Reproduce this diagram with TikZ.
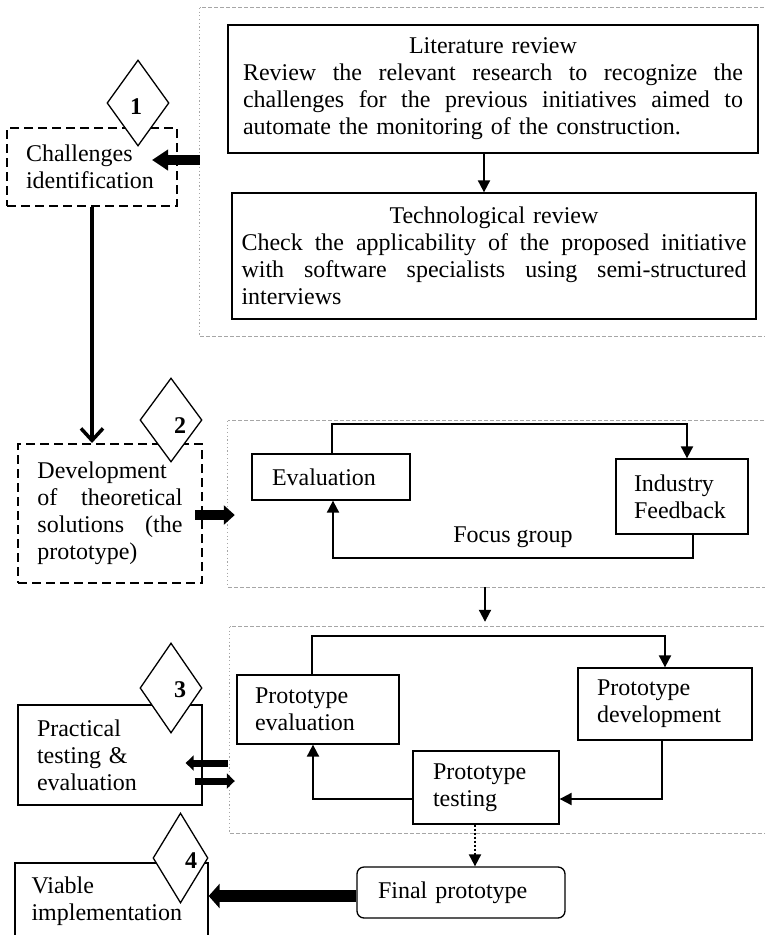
\documentclass[tikz,border=0pt]{standalone}
\usepackage{fontspec}
\setmainfont{Liberation Serif}
\usetikzlibrary{arrows.meta,shapes.geometric}
\newcommand\jline[2]{\leavevmode\hbox to #1{#2}}
\begin{document}
\begin{tikzpicture}[x=1pt,y=-1pt,
  txt/.style={font=\fontsize{24}{27}\selectfont},
  box/.style={txt, draw, line width=1.3pt, align=left, inner ysep=0pt, anchor=center},
  dbox/.style={box, line width=2pt, dash pattern=on 9pt off 5pt},
  cont/.style={inner sep=0pt, draw=none},
  gedge/.style={draw=gray!70, line width=0.8pt, dash pattern=on 4pt off 2pt},
  gdot/.style={draw=gray!70, line width=1.2pt, dash pattern=on 1.2pt off 2.5pt},
  diam/.style={diamond, draw, fill=white, line width=1.3pt, inner sep=0pt},
  num/.style={font=\fontsize{24}{27}\selectfont\bfseries, inner sep=0pt},
  arr/.style={line width=2pt, -{Triangle[length=12pt,width=12pt]}},
]
\useasboundingbox (0,0) rectangle (765,935);
\clip (0,0) rectangle (765,935);

% grey containers
\node[cont, minimum width=600pt, minimum height=328pt] (c1) at (500,172) {};
\node[cont, minimum width=572pt, minimum height=166pt] (c2) at (514,504) {};
\node[cont, minimum width=570pt, minimum height=206pt] (c3) at (515,730) {};
\foreach \c in {c1,c2,c3}{
  \draw[gedge] (\c.north east) -- (\c.north west);
  \draw[gdot] (\c.north west) -- (\c.south west);
  \draw[gedge] (\c.south west) -- (\c.south east);
}

% boxes
\node[box, text width=500pt, inner xsep=15pt, minimum height=128pt] (lit) at (493,89)
 {\jline{500pt}{\hfill Literature review\hfill}\\
  \jline{500pt}{Review\hfill the\hfill relevant\hfill research\hfill to\hfill recognize\hfill the}\\
  \jline{500pt}{challenges\hfill for\hfill the\hfill previous\hfill initiatives\hfill aimed\hfill to}\\
  automate the monitoring of the construction.};
\node[box, text width=505pt, inner xsep=9.5pt, minimum height=126pt] (tech) at (494,256)
 {\jline{505pt}{\hfill Technological review\hfill}\\
  \jline{505pt}{Check\hfill the\hfill applicability\hfill of\hfill the\hfill proposed\hfill initiative}\\
  \jline{505pt}{with\hfill software\hfill specialists\hfill using\hfill semi-structured}\\
  interviews};
\node[dbox, text width=132pt, inner xsep=19pt, minimum height=78pt] (chal) at (92,167)
 {Challenges\\identification};
\node[dbox, text width=145pt, inner xsep=19.5pt, minimum height=139pt] (dev) at (110,513.5)
 {Development\\
  \jline{145pt}{of\hfill theoretical}\\
  \jline{145pt}{solutions\hfill (the}\\
  prototype)};
\node[box, text width=118pt, inner xsep=20pt, minimum height=46pt] (ev) at (331,477) {Evaluation};
\node[box, text width=96pt, inner xsep=18pt, minimum height=75pt] (ind) at (682,496.5) {Industry\\Feedback};
\node[txt, inner sep=0pt] (fg) at (513,537) {Focus group};
\node[box, text width=126pt, inner xsep=18pt, minimum height=69pt] (pe) at (318,709.5) {Prototype\\evaluation};
\node[box, text width=136pt, inner xsep=19pt, minimum height=72pt] (pd) at (665,704) {Prototype\\development};
\node[box, text width=106pt, inner xsep=20pt, minimum height=73pt] (pt) at (486,787.5) {Prototype\\testing};
\node[box, text width=146pt, inner xsep=19pt, minimum height=100pt] (pr) at (110,755) {Practical\\testing \&\\evaluation};
\node[box, rounded corners=7pt, text width=166pt, inner xsep=21pt, minimum height=51pt] (fin) at (461,892.5) {Final prototype};
\node[box, text width=160pt, inner xsep=16.5pt, minimum height=77pt] (via) at (111.5,901.5) {Viable\\implementation};

% helper coordinates
\coordinate (t1) at (152,160);
\coordinate (y515) at (0,515);
\coordinate (x484) at (484,0);
\coordinate (x485) at (485,0);
\coordinate (x475) at (475,0);
\coordinate (e1) at (332,424);
\coordinate (e2) at (687,424);
\coordinate (f1) at (693,558);
\coordinate (f2) at (333,558);
\coordinate (p1) at (312,636);
\coordinate (p2) at (665,636);
\coordinate (q1) at (662,799);
\coordinate (q2) at (313,799);
\coordinate (ya) at (0,763);
\coordinate (yb) at (0,781);
\coordinate (y896) at (0,896);

% connectors
\draw[line width=10pt, -{Triangle[length=16pt,width=20pt]}] (c1.west |- t1) -- (t1);
\draw[arr] (lit.south -| x484) -- (tech.north -| x484);
\draw[line width=3.5pt, -{Straight Barb[length=12pt,width=22pt]}] (chal.south) -- (chal.south |- dev.north);
\draw[line width=10pt, -{Triangle[length=11pt,width=19pt]}] ([xshift=-8pt]dev.east |- y515) -- ([xshift=7pt]c2.west |- y515);
\draw[arr] (ev.north -| e1) -- (e1) -- (e2) -- (ind.north -| e2);
\draw[arr] (ind.south -| f1) -- (f1) -- (f2) -- (ev.south -| f2);
\draw[arr, shorten >=5pt] (c2.south -| x485) -- (c3.north -| x485);
\draw[arr] (pe.north -| p1) -- (p1) -- (p2) -- (pd.north -| p2);
\draw[arr] (pd.south -| q1) -- (q1) -- (pt.east |- q1);
\draw[arr] (pt.west |- q1) -- (q2) -- (pe.south -| q2);
\draw[line width=7pt, -{Triangle[length=8pt,width=15pt]}] ([xshift=-2pt]c3.west |- ya) -- ([xshift=-17pt]pr.east |- ya);
\draw[line width=7pt, -{Triangle[length=8pt,width=15pt]}] ([xshift=-8pt]pr.east |- yb) -- ([xshift=5pt]c3.west |- yb);
\draw[line width=2pt, dotted, -{Triangle[length=12pt,width=12pt]}] (pt.south -| x475) -- (fin.north -| x475);
\draw[line width=12pt, -{Triangle[length=11pt,width=24pt]}] (fin.west |- y896) -- (via.east |- y896);

% diamonds
\node[diam, minimum width=62pt, minimum height=86pt] (d1) at (138,103) {};
\node[num] (n1) at (136,107) {1};
\node[diam, minimum width=62pt, minimum height=84pt] (d2) at (171,420) {};
\node[num] (n2) at (180,426) {2};
\node[diam, minimum width=62pt, minimum height=90pt] (d3) at (171,688) {};
\node[num] (n3) at (180,690) {3};
\node[diam, minimum width=55pt, minimum height=90pt] (d4) at (180.5,858) {};
\node[num] (n4) at (191,861) {4};
\end{tikzpicture}
\end{document}
